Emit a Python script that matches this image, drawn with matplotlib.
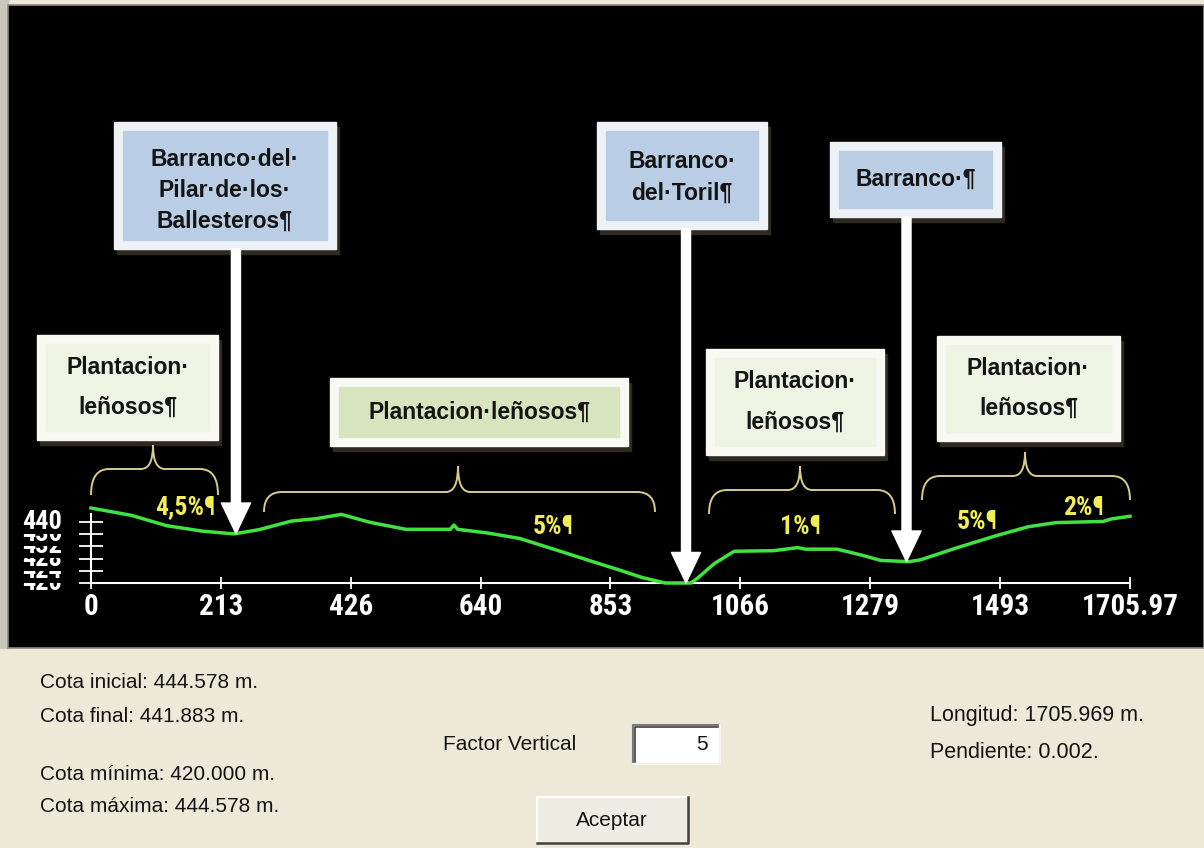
import numpy as np
import matplotlib.pyplot as plt
from matplotlib.patches import Rectangle, PathPatch
from matplotlib.path import Path
from matplotlib.transforms import blended_transform_factory

W, H = 1204, 848

# perfil longitudinal: distancia al origen (m) y cota (m)
distancia = [0, 66, 124, 183, 235, 276, 329, 370, 411, 458, 517, 590, 596, 602,
             651, 704, 769, 827, 867, 905, 943, 985, 996, 1023, 1056, 1121, 1160,
             1173, 1225, 1264, 1297, 1343, 1362, 1421, 1486, 1538, 1584, 1625,
             1662, 1675, 1705.97]
cota = [444.578, 442.2, 438.8, 437.0, 436.1, 437.5, 440.3, 441.1, 442.5, 439.9,
        437.6, 437.6, 439.0, 437.6, 436.4, 434.6, 430.5, 426.8, 424.3, 421.8,
        420.0, 420.0, 421.6, 426.3, 430.4, 430.6, 431.6, 431.1, 431.1, 429.2,
        427.4, 427.0, 427.6, 431.5, 435.5, 438.4, 439.8, 440.0, 440.2, 441.0,
        441.883]

xticks = [0, 213.25, 426.49, 639.74, 852.98, 1066.23, 1279.48, 1492.72, 1705.97]
xtick_labels = ['0', '213', '426', '640', '853', '1066', '1279', '1493', '1705.97']
yticks = [420, 424, 428, 432, 436, 440]

barrancos = ['Barranco·del·\nPilar·de·los·\nBallesteros¶', 'Barranco·\ndel·Toril¶', 'Barranco·¶']
barranco_x = [238, 977, 1339]

usos = ['Plantacion·\nleñosos¶', 'Plantacion·leñosos¶', 'Plantacion·\nleñosos¶', 'Plantacion·\nleñosos¶']
pendientes = ['4,5%¶', '5%¶', '1%¶', '5%¶', '2%¶']

resumen_izq = ['Cota inicial: 444.578 m.', 'Cota final: 441.883 m.',
               'Cota mínima: 420.000 m.', 'Cota máxima: 444.578 m.']
resumen_der = ['Longitud: 1705.969 m.', 'Pendiente: 0.002.']
factor_vertical = 5

NARROW = ['Liberation Sans Narrow', 'Roboto Condensed', 'Liberation Sans']
SANS = ['Liberation Sans', 'DejaVu Sans']

fig = plt.figure(figsize=(W / 100, H / 100), dpi=100, facecolor='#ece9d8')

# fondo: panel negro del perfil y controles de la ventana
fondo = fig.add_axes([0, 0, 1, 1], zorder=0)
fondo.set_xlim(0, W)
fondo.set_ylim(H, 0)
fondo.axis('off')
fondo.add_patch(Rectangle((0, 0), 8, 648, color='#c9c7bd'))
fondo.add_patch(Rectangle((8, 5), W - 8, 643, facecolor='black', edgecolor='#8a8a8a', lw=1.2))

for i, t in enumerate(resumen_izq):
    y = [683, 716, 774, 806][i]
    fondo.text(40, y, t, fontsize=15, family=SANS, color='#141414', va='center')
for i, t in enumerate(resumen_der):
    fondo.text(930, [716, 752][i], t, fontsize=15.5, family=SANS, color='#141414', va='center')

fondo.text(443, 745, 'Factor Vertical', fontsize=15, family=SANS, color='#141414', va='center')
# caja de texto hundida
fondo.add_patch(Rectangle((633, 725), 87, 39, facecolor='white', edgecolor='none'))
fondo.plot([633, 633, 720], [764, 725, 725], color='#7a7a7a', lw=1.5)
fondo.plot([635, 635, 718], [762, 727, 727], color='#404040', lw=1.2)
fondo.plot([633, 720, 720], [764, 764, 725], color='#f4f3ee', lw=1.5)
fondo.text(708, 745, str(factor_vertical), fontsize=15, family=SANS, color='#141414',
           va='center', ha='right')
# boton
fondo.add_patch(Rectangle((537, 797), 151, 46, facecolor='#efede3', edgecolor='none'))
fondo.plot([537, 537, 688], [843, 797, 797], color='white', lw=1.5)
fondo.plot([537, 688, 688], [843, 843, 797], color='#404040', lw=1.8)
fondo.text(612, 821, 'Aceptar', fontsize=15, family=SANS, color='#141414', va='center', ha='center')

# perfil: 420 m en y=583 px, 3.05 px por metro
x0, x1, y420, px_m = 91, 1130, 583, 3.05
ylim = (420, 450)
prof = fig.add_axes([x0 / W, (H - y420) / H, (x1 - x0) / W, (ylim[1] - ylim[0]) * px_m / H], zorder=1)
prof.patch.set_alpha(0)
prof.set_xlim(0, xticks[-1])
prof.set_ylim(*ylim)
for s in ['top', 'right']:
    prof.spines[s].set_visible(False)
prof.spines['bottom'].set_color('white')
prof.spines['bottom'].set_linewidth(1.5)
prof.spines['left'].set_color('white')
prof.spines['left'].set_linewidth(1.5)
prof.spines['left'].set_bounds(420, 442.5)

prof.set_xticks(xticks)
prof.set_xticklabels(xtick_labels, family=NARROW, weight='bold', size=21, color='white')
prof.tick_params(axis='x', direction='inout', length=9, width=1.3, color='white', pad=3)
prof.set_yticks(yticks)
prof.tick_params(axis='y', direction='inout', length=17, width=1.3, color='white', labelleft=False)

# etiquetas del eje vertical: de abajo a arriba, cada una tapa la parte alta de la anterior
for i, v in enumerate(yticks):
    prof.annotate(str(v), xy=(0, v), xytext=(-21, 0), textcoords='offset points',
                  ha='right', va='center', color='white', fontsize=19, weight='bold',
                  family=NARROW, bbox=dict(fc='black', ec='none', pad=0),
                  zorder=5 + i, annotation_clip=False)

prof.plot(distancia, cota, color='#3fe23f', lw=2.5, clip_on=False, zorder=3)

# capa de anotaciones en pixeles
capa = fig.add_axes([0, 0, 1, 1], zorder=2)
capa.set_xlim(0, W)
capa.set_ylim(H, 0)
capa.axis('off')


def caja(ax, xa, ya, xb, yb, relleno, borde, texto, lsp, dy=0):
    ax.add_patch(Rectangle((xa + 3, ya + 5), xb - xa, yb - ya, color='#2e2a22', zorder=2))
    ax.add_patch(Rectangle((xa, ya), xb - xa, yb - ya, color=borde, zorder=3))
    ax.add_patch(Rectangle((xa + 9, ya + 9), xb - xa - 18, yb - ya - 18, color=relleno, zorder=4))
    ax.text((xa + xb) / 2, (ya + yb) / 2 + dy, texto, ha='center', va='center',
            multialignment='center', fontsize=16.5, weight='bold', family=SANS,
            color='#141414', linespacing=lsp, zorder=5)


def llave(ax, xa, xb, xt, yt, ym, ye, r=18, rt=12):
    verts = [(xa, ye), (xa, ym), (xa + r, ym), (xt - rt, ym), (xt, ym), (xt, yt),
             (xt, ym), (xt + rt, ym), (xb - r, ym), (xb, ym), (xb, ye)]
    codes = [Path.MOVETO, Path.CURVE3, Path.CURVE3, Path.LINETO, Path.CURVE3, Path.CURVE3,
             Path.CURVE3, Path.CURVE3, Path.LINETO, Path.CURVE3, Path.CURVE3]
    ax.add_patch(PathPatch(Path(verts, codes), fill=False, ec='#d6cc8e', lw=1.4, zorder=2))


cajas_barranco = [(114, 122, 336, 249), (597, 122, 767, 229), (830, 142, 1001, 217)]
for (xa, ya, xb, yb), t, dy in zip(cajas_barranco, barrancos, [5, 2, 0]):
    caja(capa, xa, ya, xb, yb, '#b9cde5', '#eef2f7', t, 1.45, dy)

cajas_uso = [(37, 335, 218, 440), (330, 378, 628, 446), (706, 349, 884, 455), (937, 336, 1120, 441)]
rellenos = ['#eff3e4', '#d8e4bd', '#eff3e4', '#eff3e4']
for (xa, ya, xb, yb), t, c in zip(cajas_uso, usos, rellenos):
    caja(capa, xa, ya, xb, yb, c, '#f8f9f3', t, 1.95)

llaves = [(91, 218, 153, 445, 469, 495), (264, 655, 458, 466, 492, 512),
          (709, 895, 800, 466, 490, 514), (922, 1130, 1025, 452, 476, 500)]
for ll in llaves:
    llave(capa, *ll)

pos_pend = [(185, 507), (553, 527), (800, 527), (977, 522), (1083, 508)]
for (x, y), t in zip(pos_pend, pendientes):
    capa.text(x, y, t, ha='center', va='center', fontsize=18.5, weight='bold',
              family=NARROW, color='#f2ec55', zorder=3)

# flechas de los barrancos, verticales desde la caja hasta el perfil
mixta = blended_transform_factory(prof.transData, capa.transData)
for (xa, ya, xb, yb), d in zip(cajas_barranco, barranco_x):
    capa.annotate('', xy=(d, np.interp(d, distancia, cota)), xycoords=prof.transData,
                  xytext=(d, yb), textcoords=mixta,
                  arrowprops=dict(facecolor='white', edgecolor='white', width=6.5,
                                  headwidth=21, headlength=22, shrink=0),
                  zorder=6)

fig.savefig('out.png', dpi=100, facecolor=fig.get_facecolor())
